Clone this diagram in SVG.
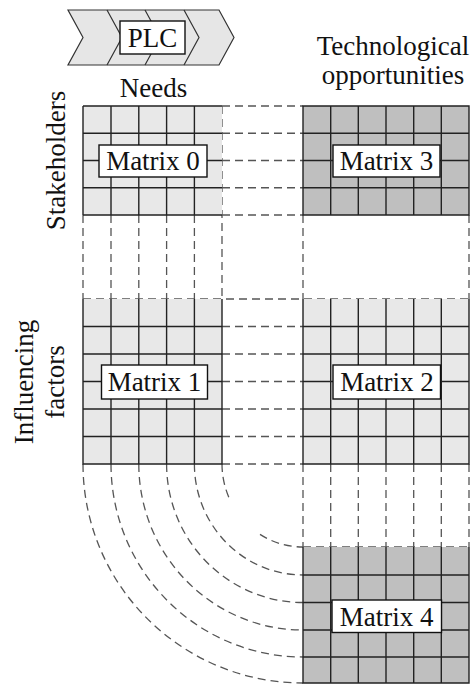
<svg xmlns="http://www.w3.org/2000/svg" width="472" height="684" viewBox="0 0 472 684">
  <style>
    .lbl { font-family: "Liberation Serif", "Times New Roman", serif; font-size: 27px; fill: #111; }
    .mid { text-anchor: middle; }
    .light { fill: #e8e8e8; }
    .dark { fill: #bfbfbf; }
    .grid { fill: none; stroke: #222; stroke-width: 1.4; }
    .tag { fill: #fff; stroke: #111; stroke-width: 1.4; }
    .dash { fill: none; stroke: #555; stroke-width: 1.3; stroke-dasharray: 8 5; }
    .chev { fill: #e6e6e6; stroke: #333; stroke-width: 1.2; stroke-linejoin: miter; }
    .chevline { fill: none; stroke: #333; stroke-width: 1.2; }
  </style>

  <!-- Product life cycle banner -->
  <g id="plc">
    <path class="chev" d="M68 10 H219 L234 37.5 L219 65 H68 L83 37.5 Z"/>
    <path class="chevline" d="M107 10 L122 37.5 L107 65 M145 10 L160 37.5 L145 65 M184 10 L199 37.5 L184 65"/>
    <rect class="tag" x="120" y="21" width="65" height="33"/>
    <text class="lbl mid" x="152.5" y="47">PLC</text>
  </g>

  <!-- Axis labels -->
  <g id="label-needs">
    <text class="lbl mid" x="153.5" y="96.5">Needs</text>
  </g>
  <g id="label-tech">
    <text class="lbl mid" x="393" y="55">Technological</text>
    <text class="lbl mid" x="393" y="84">opportunities</text>
  </g>
  <g id="label-stakeholders">
    <text class="lbl mid" transform="translate(65 160.5) rotate(-90)">Stakeholders</text>
  </g>
  <g id="label-factors">
    <text class="lbl mid" transform="translate(33 382) rotate(-90)">Influencing</text>
    <text class="lbl mid" transform="translate(64 382) rotate(-90)">factors</text>
  </g>

  <!-- Dashed correspondence lines between the matrices -->
  <g id="connectors">
    <!-- Matrix 0 rows carried across to Matrix 3 -->
    <path class="dash" d="M222 106H303 M222 133.25H303 M222 160.5H303 M222 187.75H303 M222 215H303"/>
    <!-- Matrix 0 columns carried down to Matrix 1 -->
    <path class="dash" d="M83 215V299 M111 215V299 M138.8 215V299 M166.6 215V299 M194.4 215V299 M222 106V299"/>
    <!-- Matrix 3 outline carried down to Matrix 2 -->
    <path class="dash" d="M303 215V299 M469 215V299"/>
    <!-- Top edge shared by Matrix 1 and Matrix 2 -->
    <path class="dash" d="M83 299H469"/>
    <!-- Matrix 1 rows carried across to Matrix 2 -->
    <path class="dash" d="M222 326.5H303 M222 354H303 M222 381.5H303 M222 409H303 M222 436.5H303 M222 464H303"/>
    <!-- Matrix 2 columns carried down to Matrix 4 -->
    <path class="dash" d="M303 464V547 M330.7 464V547 M358.3 464V547 M386 464V547 M413.7 464V547 M441.3 464V547 M469 464V547"/>
    <path class="dash" d="M303 547H469"/>
    <!-- Matrix 1 columns bent round onto Matrix 4 rows -->
    <path class="dash" d="M83 464 A220 219 0 0 0 303 683"/>
    <path class="dash" d="M111 464 A192 193 0 0 0 303 657"/>
    <path class="dash" d="M138.8 464 A164.2 166 0 0 0 303 630"/>
    <path class="dash" d="M166.6 464 A136.4 138.5 0 0 0 303 602.5"/>
    <path class="dash" d="M194.4 464 A108.6 111 0 0 0 303 575"/>
    <path class="dash" d="M222 464 A81 83 0 0 0 229.6 499 M260 534.4 A81 83 0 0 0 303 547"/>
  </g>

  <!-- Matrix 0: needs x stakeholders -->
  <g id="matrix0">
    <rect class="light" x="83" y="106" width="139" height="109"/>
    <path class="grid" d="M83 106H222 M83 106V215 M83 215H222 M111 106V215 M138.8 106V215 M166.6 106V215 M194.4 106V215 M83 133.25H222 M83 160.5H222 M83 187.75H222"/>
    <rect class="tag" x="99" y="145" width="108" height="32"/>
    <text class="lbl mid" x="153" y="170">Matrix 0</text>
  </g>

  <!-- Matrix 3: technological opportunities x stakeholders -->
  <g id="matrix3">
    <rect class="dark" x="303" y="106" width="166" height="109"/>
    <path class="grid" d="M303 106H469V215H303Z M330.7 106V215 M358.3 106V215 M386 106V215 M413.7 106V215 M441.3 106V215 M303 133.25H469 M303 160.5H469 M303 187.75H469"/>
    <rect class="tag" x="333" y="145" width="107" height="32"/>
    <text class="lbl mid" x="386.5" y="170">Matrix 3</text>
  </g>

  <!-- Matrix 1: needs x influencing factors -->
  <g id="matrix1">
    <rect class="light" x="83" y="299" width="139" height="165"/>
    <path class="grid" d="M83 299V464H222V299 M111 299V464 M138.8 299V464 M166.6 299V464 M194.4 299V464 M83 326.5H222 M83 354H222 M83 381.5H222 M83 409H222 M83 436.5H222"/>
    <rect class="tag" x="101.5" y="365" width="106" height="34"/>
    <text class="lbl mid" x="154.5" y="391">Matrix 1</text>
  </g>

  <!-- Matrix 2: technological opportunities x influencing factors -->
  <g id="matrix2">
    <rect class="light" x="303" y="299" width="166" height="165"/>
    <path class="grid" d="M303 299V464H469V299 M330.7 299V464 M358.3 299V464 M386 299V464 M413.7 299V464 M441.3 299V464 M303 326.5H469 M303 354H469 M303 381.5H469 M303 409H469 M303 436.5H469"/>
    <rect class="tag" x="333" y="365" width="107.5" height="34"/>
    <text class="lbl mid" x="387" y="391">Matrix 2</text>
  </g>

  <!-- Matrix 4: technological opportunities x needs -->
  <g id="matrix4">
    <rect class="dark" x="303" y="547" width="166" height="136"/>
    <path class="grid" d="M303 547V683H469V547 M330.7 547V683 M358.3 547V683 M386 547V683 M413.7 547V683 M441.3 547V683 M303 575H469 M303 602.5H469 M303 630H469 M303 657H469"/>
    <rect class="tag" x="332" y="600" width="109.5" height="32.5"/>
    <text class="lbl mid" x="386.7" y="625.5">Matrix 4</text>
  </g>
</svg>
